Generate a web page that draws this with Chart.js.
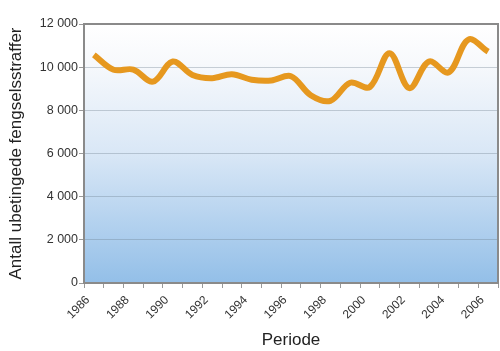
<!DOCTYPE html>
<html>
<head>
<meta charset="utf-8">
<script src="https://cdn.jsdelivr.net/npm/chart.js@4/dist/chart.umd.min.js"></script>
<style>
  html, body { margin: 0; padding: 0; background: #fff; }
  #wrap { width: 500px; height: 351px; position: relative; }
</style>
</head>
<body>
<div id="wrap"><canvas id="fengselChart"></canvas></div>
<script>
// Årstall og antall ubetingede fengselsstraffer
const years = [1986, 1987, 1988, 1989, 1990, 1991, 1992, 1993, 1994, 1995, 1996,
               1997, 1998, 1999, 2000, 2001, 2002, 2003, 2004, 2005, 2006];
const straffer = [10570, 9880, 9890, 9330, 10260, 9640, 9490, 9670, 9420, 9380, 9580,
                  8700, 8440, 9280, 9080, 10650, 9030, 10260, 9760, 11280, 10720];
const yTicks = [0, 2000, 4000, 6000, 8000, 10000, 12000];
const xLabelYears = [1986, 1988, 1990, 1992, 1994, 1996, 1998, 2000, 2002, 2004, 2006];

const fmt = v => String(v).replace(/\B(?=(\d{3})+(?!\d))/g, ' ');

// Bakgrunn med gradient og ramme rundt plottet
const plotBg = {
    id: 'plotBg',
    beforeDraw(chart) {
        const { ctx, chartArea: a } = chart;
        const g = ctx.createLinearGradient(0, a.top, 0, a.bottom);
        g.addColorStop(0, '#ffffff');
        g.addColorStop(0.15, '#f7f9fc');
        g.addColorStop(0.5, '#d9e7f6');
        g.addColorStop(1, '#93bfe8');
        ctx.save();
        ctx.fillStyle = g;
        ctx.fillRect(a.left, a.top, a.right - a.left, a.bottom - a.top);
        ctx.restore();
    },
    afterDraw(chart) {
        const { ctx, chartArea: a } = chart;
        ctx.save();
        ctx.strokeStyle = '#8a8a8a';
        ctx.lineWidth = 2;
        ctx.strokeRect(a.left, a.top, a.right - a.left, a.bottom - a.top);
        ctx.restore();
    }
};

const ctx = document.getElementById('fengselChart').getContext('2d');
new Chart(ctx, {
    type: 'line',
    data: {
        datasets: [{
            label: 'Fengselsstraffer',
            data: years.map((y, i) => ({ x: y, y: straffer[i] })),
            borderColor: '#e6981f',
            borderWidth: 6,
            pointRadius: 0,
            tension: 0.35,
            fill: false
        }]
    },
    options: {
        responsive: true,
        maintainAspectRatio: false,
        animation: false,
        layout: { padding: { top: 24, right: 2, left: 0, bottom: 0 } },
        scales: {
            x: {
                type: 'linear',
                min: 1985.5,
                max: 2006.5,
                afterBuildTicks(scale) {
                    const t = [];
                    for (let v = 1985.5; v <= 2006.5; v += 1) t.push({ value: v });
                    scale.ticks = t;
                },
                afterFit(scale) {
                    scale.height = 68;
                    scale.paddingLeft = 0;
                    scale.paddingRight = 0;
                },
                grid: {
                    drawOnChartArea: false,
                    drawTicks: true,
                    tickLength: 5,
                    tickColor: '#9a9a9a'
                },
                border: { display: false },
                ticks: {
                    autoSkip: false,
                    minRotation: 45,
                    maxRotation: 45,
                    labelOffset: 4,
                    padding: 5,
                    color: '#333',
                    font: { family: 'Liberation Sans, Arial', size: 12 },
                    callback: v => {
                        const yr = Math.round(v + 0.5);
                        return xLabelYears.includes(yr) ? String(yr) : '';
                    }
                },
                title: {
                    display: true,
                    text: 'Periode',
                    color: '#222',
                    font: { family: 'Liberation Sans, Arial', size: 17 },
                    padding: { top: 0, bottom: 0 }
                }
            },
            y: {
                min: 0,
                max: 12000,
                afterBuildTicks(scale) {
                    scale.ticks = yTicks.map(v => ({ value: v }));
                },
                afterFit(scale) {
                    scale.width = 84;
                    scale.paddingTop = 0;
                    scale.paddingBottom = 0;
                },
                grid: {
                    color: 'rgba(110,125,140,0.35)',
                    tickColor: '#9a9a9a',
                    tickLength: 5
                },
                border: { display: false },
                ticks: {
                    padding: 1,
                    color: '#333',
                    font: { family: 'Liberation Sans, Arial', size: 12.5 },
                    callback: v => fmt(v)
                },
                title: {
                    display: true,
                    text: 'Antall ubetingede fengselsstraffer',
                    color: '#222',
                    font: { family: 'Liberation Sans, Arial', size: 17 },
                    padding: { top: 6, bottom: 0 }
                }
            }
        },
        plugins: {
            legend: { display: false },
            tooltip: { enabled: false }
        }
    },
    plugins: [plotBg]
});
</script>
</body>
</html>
